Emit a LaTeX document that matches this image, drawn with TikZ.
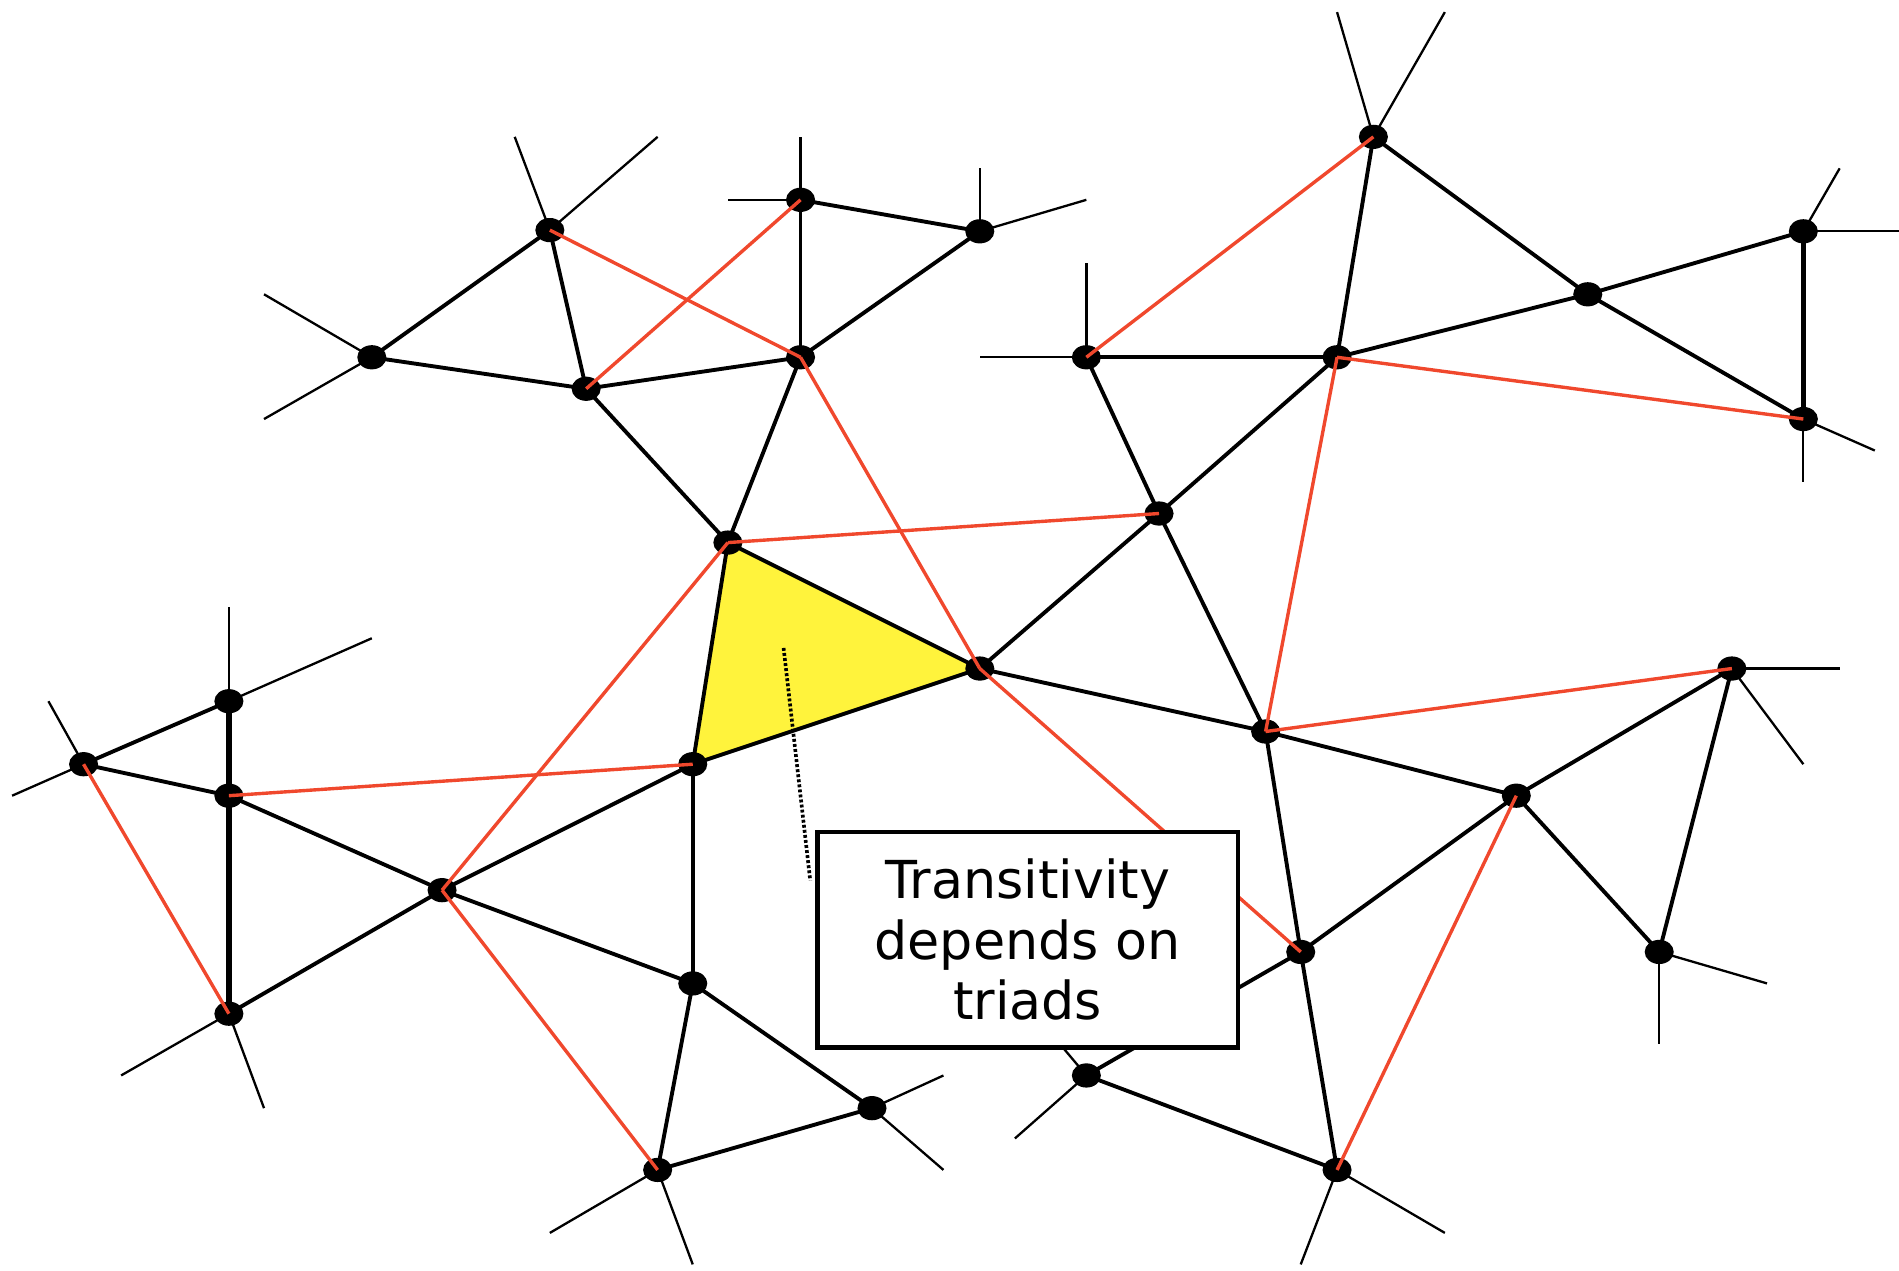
\documentclass[tikz,border=0pt]{standalone}
\usepackage{fontspec}
\setmainfont{DejaVu Sans}
\definecolor{edgered}{RGB}{240,72,45}
\definecolor{triyellow}{RGB}{255,243,60}
\begin{document}
\begin{tikzpicture}[x=0.5pt,y=-0.5pt,
  blk/.style={black,line width=1.6pt},
  thk/.style={black,line width=2.3pt},
  stub/.style={black,line width=0.95pt},
  rd/.style={edgered,line width=1.4pt},
  labelbox/.style={draw=black,fill=white,line width=1.8pt,minimum width=347*0.5pt,minimum height=178*0.5pt,align=center,inner sep=0pt,font=\fontsize{21.6pt}{25pt}\selectfont}]
\useasboundingbox (0,0) rectangle (1568,1049);
% vertices
\coordinate (A) at (454,190);
\coordinate (B) at (307,295);
\coordinate (C) at (484,321);
\coordinate (D) at (661,165);
\coordinate (E) at (809,191);
\coordinate (F) at (661,295);
\coordinate (G) at (601,448);
\coordinate (H) at (809,552);
\coordinate (I) at (572,631);
\coordinate (J) at (897,295);
\coordinate (K) at (1104,295);
\coordinate (L) at (1134,113);
\coordinate (M) at (1311,243);
\coordinate (N) at (1489,191);
\coordinate (O) at (1489,346);
\coordinate (P) at (957,424);
\coordinate (Q) at (1045,604);
\coordinate (R) at (1430,552);
\coordinate (S) at (1252,657);
\coordinate (T) at (1370,786);
\coordinate (U) at (1074,786);
\coordinate (V) at (897,888);
\coordinate (W) at (1104,966);
\coordinate (X) at (189,579);
\coordinate (Y) at (69,631);
\coordinate (Z) at (189,657);
\coordinate (AA) at (365,735);
\coordinate (AB) at (189,837);
\coordinate (AC) at (572,812);
\coordinate (AD) at (720,915);
\coordinate (AE) at (543,966);
% stub ends
\coordinate (a1) at (425,113); \coordinate (a2) at (543,113);
\coordinate (b1) at (218,243); \coordinate (b2) at (218,346);
\coordinate (d1) at (661,113); \coordinate (d2) at (601,165);
\coordinate (e1) at (809,139); \coordinate (e2) at (897,165);
\coordinate (j1) at (897,217); \coordinate (j2) at (809,295);
\coordinate (l1) at (1104,10); \coordinate (l2) at (1193,10);
\coordinate (n1) at (1519,139); \coordinate (n2) at (1568,191);
\coordinate (o1) at (1489,398); \coordinate (o2) at (1548,372);
\coordinate (r1) at (1519,552); \coordinate (r2) at (1489,631);
\coordinate (t1) at (1370,862); \coordinate (t2) at (1459,812);
\coordinate (w1) at (1074,1044); \coordinate (w2) at (1193,1018);
\coordinate (v1) at (838,940); \coordinate (v2) at (865,850);
\coordinate (ad1) at (779,888); \coordinate (ad2) at (779,966);
\coordinate (ae1) at (454,1018); \coordinate (ae2) at (572,1044);
\coordinate (ab1) at (100,888); \coordinate (ab2) at (218,915);
\coordinate (y1) at (40,579); \coordinate (y2) at (10,657);
\coordinate (x1) at (189,501); \coordinate (x2) at (307,527);
\coordinate (dot1) at (647,535); \coordinate (dot2) at (669,727);
% yellow triad
\fill[triyellow] (G) -- (H) -- (I) -- cycle;
% stubs
\foreach \v/\s in {A/a1,A/a2,B/b1,B/b2,D/d1,D/d2,E/e1,E/e2,J/j1,J/j2,L/l1,L/l2,N/n1,N/n2,O/o1,O/o2,R/r1,R/r2,T/t1,T/t2,W/w1,W/w2,V/v1,V/v2,AD/ad1,AD/ad2,AE/ae1,AE/ae2,AB/ab1,AB/ab2,Y/y1,Y/y2,X/x1,X/x2}
  \draw[stub] (\v) -- (\s);
% black edges
\foreach \p/\q in {A/B,A/C,B/C,C/F,D/F,D/E,E/F,C/G,F/G,G/H,H/I,I/G,H/P,P/K,J/K,J/P,P/Q,K/L,L/M,K/M,M/N,M/O,H/Q,Q/S,S/R,R/T,S/T,S/U,Q/U,U/W,V/W,U/V,I/AA,I/AC,AA/AC,AA/Z,AA/AB,Z/Y,Y/X,AC/AD,AC/AE,AE/AD}
  \draw[blk] (\p) -- (\q);
\foreach \p/\q in {X/Z,Z/AB,N/O}
  \draw[thk] (\p) -- (\q);
% vertex dots
\foreach \v in {A,B,C,D,E,F,G,H,I,J,K,L,M,N,O,P,Q,R,S,T,U,V,W,X,Y,Z,AA,AB,AC,AD,AE}
  \fill (\v) ellipse [x radius=12, y radius=10];
% red edges
\foreach \p/\q in {A/F,C/D,F/H,G/P,G/AA,I/Z,H/U,Y/AB,AA/AE,J/L,K/O,K/Q,Q/R,S/W}
  \draw[rd] (\p) -- (\q);
% dotted pointer
\draw[black,line width=1.5pt,dash pattern=on 1.2pt off 0.9pt] (dot1) -- (dot2);
% label
\node[labelbox] (lbl) at (848.5,776) {Transitivity\\depends on\\triads};
\end{tikzpicture}
\end{document}
